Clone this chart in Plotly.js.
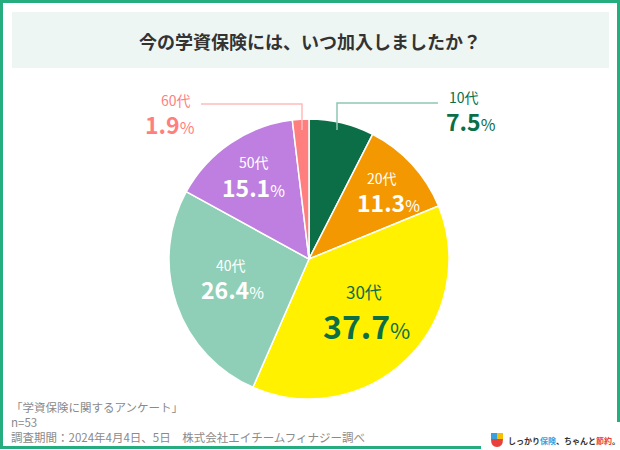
<!DOCTYPE html>
<html><head><meta charset="utf-8">
<script src="https://cdn.plot.ly/plotly-3.0.1.min.js"></script>
<style>html,body{margin:0;padding:0;background:#fff}#c{width:620px;height:450px}</style>
</head><body><div id="c"></div>
<script>
const ageGroups = ["10代","20代","30代","40代","50代","60代"];
const percents = [7.5, 11.3, 37.7, 26.4, 15.1, 1.9];
const sliceColors = ["#0b6e47","#f39800","#fff100","#8fcfb7","#be7fe0","#ff7f7f"];
const titleText = "今の学資保険には、いつ加入しましたか？";
const footnotes = ["「学資保険に関するアンケート」","n=53","調査期間：2024年4月4日、5日　株式会社エイチームフィナジー調べ"];

const W = 620, H = 450;
const px = x => x / W, py = y => 1 - y / H;
const FONT = "Noto Sans CJK JP, Noto Sans, sans-serif";

// label placement (pixel positions) and colours
const labelPos = [
  {x1:464, x2:471, y1:97, y2:121, c:"#0b6e47", s1:14, s2:23},
  {x1:382, x2:388, y1:178, y2:202, c:"#ffffff", s1:14, s2:23},
  {x1:364, x2:366, y1:291, y2:325, c:"#0b6e47", s1:17, s2:32},
  {x1:231, x2:232, y1:265, y2:289, c:"#ffffff", s1:14, s2:23},
  {x1:254, x2:253, y1:162, y2:187, c:"#ffffff", s1:14, s2:23},
  {x1:176, x2:170, y1:100, y2:124, c:"#ff7f7f", s1:14, s2:23}
];

const annotations = [];
ageGroups.forEach((g, i) => {
  const p = labelPos[i];
  annotations.push({xref:"paper", yref:"paper", x:px(p.x1), y:py(p.y1), text:g, showarrow:false,
    font:{family:FONT, size:p.s1, color:p.c}, xanchor:"center", yanchor:"middle"});
  annotations.push({xref:"paper", yref:"paper", x:px(p.x2), y:py(p.y2),
    text:"<b>"+percents[i].toFixed(1)+"</b><span style='font-size:"+Math.round(p.s2*0.68)+"px'>%</span>",
    showarrow:false, font:{family:FONT, size:p.s2, color:p.c}, xanchor:"center", yanchor:"middle"});
});
annotations.push({xref:"paper", yref:"paper", x:px(310), y:py(41), text:"<b>"+titleText+"</b>", showarrow:false,
  font:{family:FONT, size:18, color:"#333333"}, xanchor:"center", yanchor:"middle"});
const footY = [407, 422, 437];
footnotes.forEach((t, i) => annotations.push({xref:"paper", yref:"paper", x:px(9), y:py(footY[i]), text:t,
  showarrow:false, font:{family:FONT, size:11.5, color:"#8a8a8a"}, xanchor:"left", yanchor:"middle"}));
annotations.push({xref:"paper", yref:"paper", x:px(506), y:py(440),
  text:"<b>しっかり<span style='color:#3aa0dc'>保険</span>、ちゃんと<span style='color:#e8403a'>節約</span>。</b>",
  showarrow:false, font:{family:FONT, size:8, color:"#333333"}, xanchor:"left", yanchor:"middle"});

const shapes = [
  {type:"rect", xref:"paper", yref:"paper", x0:px(1.5), x1:px(618.5), y0:py(1.5), y1:py(447.5),
    line:{color:"#25ad80", width:3}, fillcolor:"rgba(0,0,0,0)", layer:"below"},
  {type:"rect", xref:"paper", yref:"paper", x0:px(481), x1:px(621), y0:py(422), y1:py(451),
    line:{width:0}, fillcolor:"#ffffff", layer:"below"},
  {type:"rect", xref:"paper", yref:"paper", x0:px(12), x1:px(609), y0:py(12), y1:py(68),
    line:{width:0}, fillcolor:"#eef6f3", layer:"below"},
  {type:"path", xref:"paper", yref:"paper",
    path:"M "+px(337)+","+py(130)+" L "+px(337)+","+py(103)+" L "+px(438)+","+py(103),
    line:{color:"#8fc7b3", width:1.5}, layer:"above"},
  {type:"path", xref:"paper", yref:"paper",
    path:"M "+px(302)+","+py(130)+" L "+px(302)+","+py(104)+" L "+px(201)+","+py(104),
    line:{color:"#ffbcbc", width:1.5}, layer:"above"},
  // logo icon
  {type:"rect", xref:"paper", yref:"paper", x0:px(491), x1:px(497), y0:py(433), y1:py(439),
    line:{width:0}, fillcolor:"#3aa0dc"},
  {type:"rect", xref:"paper", yref:"paper", x0:px(497), x1:px(503), y0:py(433), y1:py(439),
    line:{width:0}, fillcolor:"#f6c000"},
  {type:"path", xref:"paper", yref:"paper",
    path:"M "+px(491)+","+py(439)+" L "+px(503)+","+py(439)+" Q "+px(503)+","+py(447)+" "+px(497)+","+py(447)+" Q "+px(491)+","+py(447)+" "+px(491)+","+py(439)+" Z",
    line:{width:0}, fillcolor:"#e8403a"}
];

const trace = {
  type:"pie", labels:ageGroups, values:percents, sort:false, direction:"clockwise", rotation:0,
  marker:{colors:sliceColors, line:{color:"#ffffff", width:1.5}},
  textinfo:"none", hoverinfo:"label+percent", showlegend:false,
  domain:{x:[px(169), px(449)], y:[py(399), py(119)]}
};

Plotly.newPlot("c", [trace], {
  width:W, height:H, margin:{l:0,r:0,t:0,b:0}, paper_bgcolor:"#ffffff", plot_bgcolor:"#ffffff",
  showlegend:false, annotations:annotations, shapes:shapes, font:{family:FONT}
}, {displayModeBar:false, staticPlot:true});
</script></body></html>
